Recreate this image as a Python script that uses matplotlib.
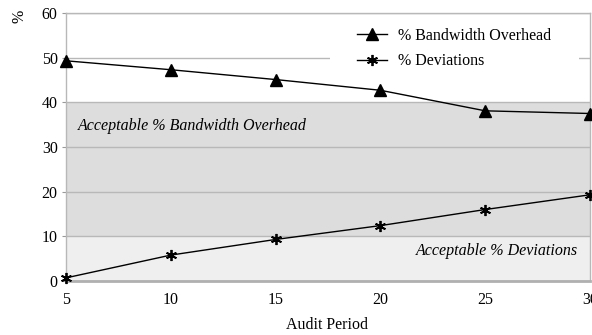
import matplotlib
matplotlib.use("Agg")
import matplotlib.pyplot as plt
from matplotlib.patches import Rectangle

audit_period = [5, 10, 15, 20, 25, 30]
bandwidth_overhead = [49.3, 47.3, 45.1, 42.7, 38.1, 37.5]
deviations = [0.7, 5.8, 9.3, 12.4, 16.0, 19.3]
y_ticks = [0, 10, 20, 30, 40, 50, 60]
acc_dev_limit = 10
acc_bw_limit = 40

plt.rcParams['font.family'] = ['Liberation Serif', 'DejaVu Serif']
FS = 11.5

fig = plt.figure(figsize=(5.92, 3.35), dpi=100)
ax = fig.add_axes([66/592, 1-281/335, 524/592, 268/335])

ax.axhspan(0, acc_dev_limit, color='#efefef', zorder=0, lw=0)
ax.axhspan(acc_dev_limit, acc_bw_limit, color='#dddddd', zorder=0, lw=0)
for t in y_ticks:
    ax.axhline(t, color='#b8b8b8', lw=1, zorder=1)

# white background behind legend
ax.add_patch(Rectangle((0.504, 0.78), 0.475, 0.17, transform=ax.transAxes,
                       facecolor='white', edgecolor='none', zorder=1.5))

ax.plot(audit_period, bandwidth_overhead, color='black', lw=1, marker='^', ms=8,
        label='% Bandwidth Overhead', zorder=3, clip_on=False)
ax.plot(audit_period, deviations, color='black', lw=1, marker=(6, 2, 0), ms=8, mew=1.3,
        label='% Deviations', zorder=3, clip_on=False)

ax.set_xlim(5, 30)
ax.set_ylim(0, 60)
ax.set_xticks(audit_period)
ax.set_yticks(y_ticks)
ax.tick_params(axis='y', colors='#999999', labelcolor='black', labelsize=FS, length=3, pad=3)
ax.tick_params(axis='x', colors='#999999', labelcolor='black', labelsize=FS, length=0, pad=8)
for s in ['top', 'right', 'left']:
    ax.spines[s].set_color('#b8b8b8')
    ax.spines[s].set_linewidth(1)
ax.spines['bottom'].set_color('#b0b0b0')
ax.spines['bottom'].set_linewidth(2)

ax.text(5.57, 34.7, 'Acceptable % Bandwidth Overhead', style='italic', fontsize=FS,
        ha='left', va='center', zorder=2)
ax.text(29.43, 6.8, 'Acceptable % Deviations', style='italic', fontsize=FS,
        ha='right', va='center', zorder=2)

leg = ax.legend(loc='upper left', bbox_to_anchor=(0.555, 0.945), frameon=False, fontsize=FS,
                handlelength=1.9, handletextpad=0.7, borderaxespad=0, borderpad=0,
                labelspacing=0.6)
leg.set_zorder(4)

fig.text(327/592, 1-325/335, 'Audit Period', fontsize=FS, ha='center', va='center')
fig.text(20/592, 1-16/335, '%', rotation=90, fontsize=FS, ha='center', va='center')

fig.savefig('out.png', dpi=100)
